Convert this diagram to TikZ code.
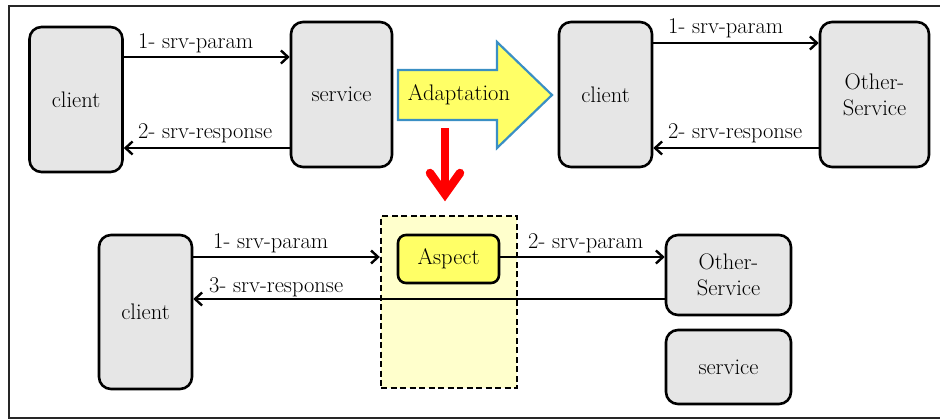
\documentclass[tikz,border=0pt]{standalone}
\usepackage{fontspec}
\usetikzlibrary{arrows.meta}
\definecolor{boxgray}{HTML}{E6E6E6}
\definecolor{asplight}{HTML}{FFFFCC}
\definecolor{aspyellow}{HTML}{FFFF66}
\definecolor{adaptblue}{HTML}{3A8FC4}
\begin{document}
\begin{tikzpicture}[x=1pt,y=-1pt,
  font=\fontsize{22.5}{26}\selectfont,
  box/.style={draw=black, line width=2.6pt, rounded corners=12pt, fill=boxgray,
    align=center, inner sep=0pt},
  link/.style={line width=2.4pt, -{Straight Barb[length=7pt,width=13pt]}},
  lbl/.style={anchor=west, inner sep=0pt},
  redline/.style={red, line width=8.5pt}
]
\clip (0,0) rectangle (940,420);
\useasboundingbox (0,0) rectangle (940,420);

% outer frame (open on the right)
\draw[line width=2.2pt, black!85] (950,6) -- (9,6) -- (9,418) -- (950,418);

% ---- top left: original binding ----
\node[box, minimum width=93pt, minimum height=145pt] (cA) at (76,99.5) {client};
\node[box, minimum width=101pt, minimum height=145pt] (sA) at (341.5,94.5) {service};
\draw[link] (cA.east |- 0,57) -- (sA.west |- 0,57);
\draw[link] (sA.west |- 0,148) -- (cA.east |- 0,148);
\node[lbl] (lA1) at (138,43) {1- srv-param};
\node[lbl] (lA2) at (138,133) {2- srv-response};

% ---- adaptation arrow ----
\draw[adaptblue, line width=2.2pt, fill=aspyellow, line join=miter]
  (398,70) -- (497,70) -- (497,42) -- (552,95) -- (497,148) -- (497,120) -- (398,120) -- cycle;
\node[inner sep=0pt] (adapt) at (459,95) {Adaptation};

% ---- red arrow down ----
\coordinate (redtop) at (445,128);
\coordinate (redtip) at (445,194);
\draw[redline] (redtop) -- ([yshift=6pt]redtip);
\draw[redline, line cap=round, line join=miter]
  ([xshift=-15pt,yshift=21pt]redtip) -- (redtip) -- ([xshift=15pt,yshift=21pt]redtip);

% ---- top right: adapted binding ----
\node[box, minimum width=93pt, minimum height=145pt] (cB) at (605.5,94.5) {client};
\node[box, minimum width=109pt, minimum height=145pt] (oB) at (874.5,94.5) {Other-\\Service};
\draw[link] (cB.east |- 0,43) -- (oB.west |- 0,43);
\draw[link] (oB.west |- 0,148) -- (cB.east |- 0,148);
\node[lbl] (lB1) at (668,28) {1- srv-param};
\node[lbl] (lB2) at (668,133) {2- srv-response};

% ---- bottom: aspect-based redirection ----
\node[draw=black, dashed, dash pattern=on 6pt off 3.5pt, line width=2.4pt, fill=asplight,
  minimum width=136pt, minimum height=172pt, inner sep=0pt] (aspbox) at (449,302) {};
\node[box, fill=aspyellow, rounded corners=8pt, minimum width=101pt, minimum height=48pt]
  (asp) at (448.5,259) {Aspect};
\node[box, minimum width=93pt, minimum height=154pt] (cC) at (145.5,312) {client};
\node[box, minimum width=125pt, minimum height=80pt] (oC) at (728.5,275) {Other-\\Service};
\node[box, minimum width=125pt, minimum height=74pt] (sC) at (728.5,367) {service};

\draw[link] (cC.east |- 0,257) -- (aspbox.west |- 0,257);
\draw[link] (asp.east |- 0,257) -- (oC.west |- 0,257);
\draw[link] (oC.west |- 0,299) -- (cC.east |- 0,299);
\node[lbl] (lC1) at (213,243) {1- srv-param};
\node[lbl] (lC2) at (528,243) {2- srv-param};
\node[lbl] (lC3) at (209,287) {3- srv-response};
\end{tikzpicture}
\end{document}
